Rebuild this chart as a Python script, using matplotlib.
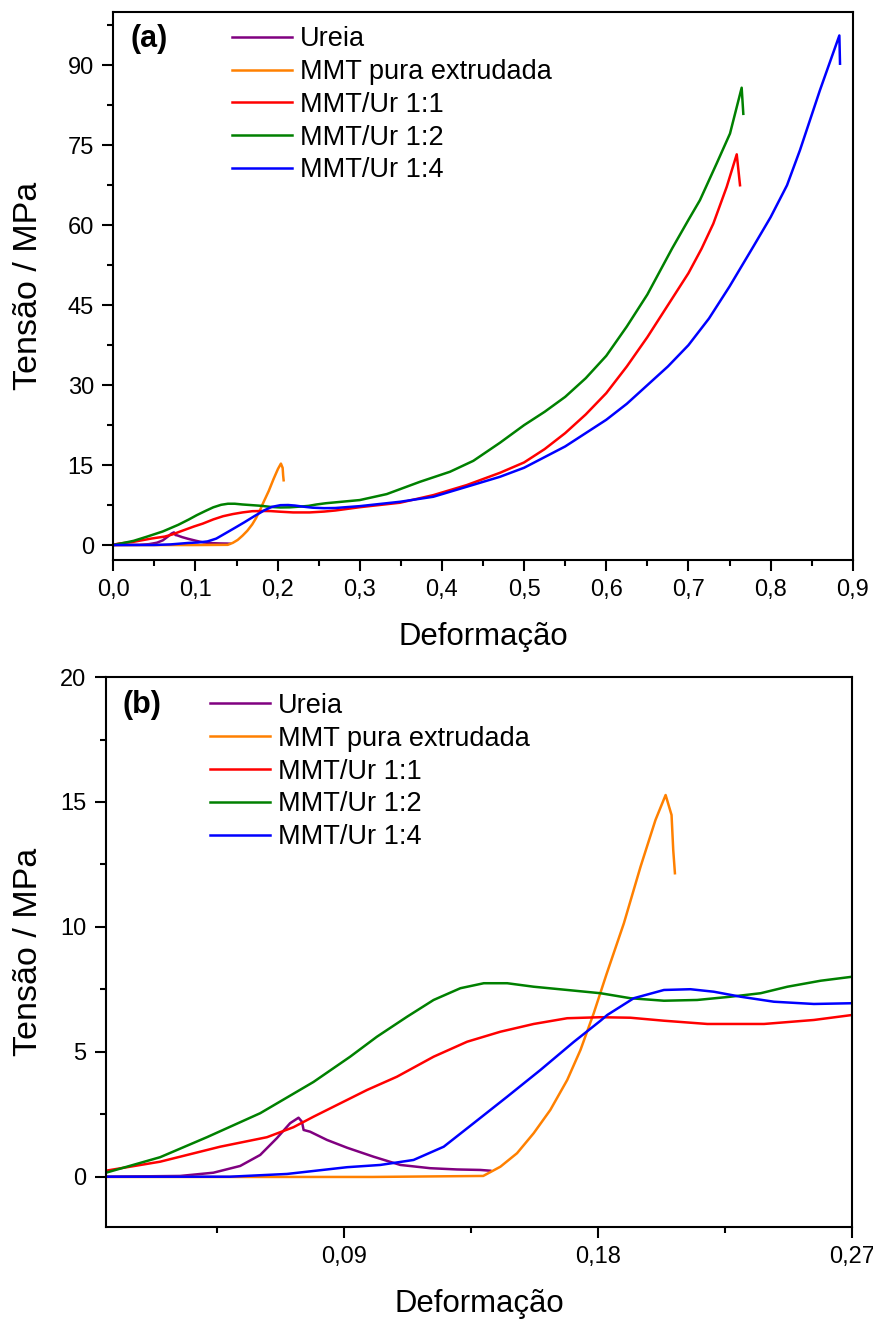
import numpy as np
import matplotlib
matplotlib.use("Agg")
import matplotlib.pyplot as plt
from matplotlib.ticker import FuncFormatter, MultipleLocator, FixedLocator

plt.rcParams['font.family'] = ['Liberation Sans', 'DejaVu Sans']

# dados (deformacao, tensao / MPa)
ureia_x = [0.0, 0.0055, 0.0318, 0.0436, 0.0531, 0.0602, 0.0661, 0.0708, 0.0738, 0.0750, 0.0756,
           0.0779, 0.0839, 0.0910, 0.1004, 0.1099, 0.1205, 0.1300, 0.1383, 0.1418]
ureia_y = [0.0, 0.01, 0.04, 0.17, 0.44, 0.88, 1.55, 2.15, 2.37, 2.21, 1.88,
           1.81, 1.48, 1.17, 0.81, 0.48, 0.35, 0.30, 0.28, 0.25]

mmt_x = [0.0, 0.0055, 0.05, 0.10, 0.1393, 0.1454, 0.1513, 0.1572, 0.1631, 0.1691, 0.1738, 0.1785,
         0.1830, 0.1892, 0.1951, 0.2004, 0.2040, 0.2061, 0.2067, 0.2073]
mmt_y = [0.0, 0.0, 0.0, 0.0, 0.04, 0.41, 0.95, 1.75, 2.68, 3.88, 5.08, 6.55,
         8.1, 10.15, 12.41, 14.28, 15.28, 14.48, 13.08, 12.15]

ur11_x = [0.0, 0.0055, 0.0247, 0.0460, 0.0626, 0.0720, 0.0791, 0.0862, 0.0910, 0.0981, 0.1087,
          0.1217, 0.1336, 0.1454, 0.1572, 0.1691, 0.1809, 0.1915, 0.2034, 0.2188, 0.2389, 0.2566,
          0.2702, 0.30, 0.3490, 0.3895, 0.4301, 0.4707, 0.50, 0.525, 0.55, 0.575, 0.60, 0.625,
          0.65, 0.675, 0.70, 0.716, 0.7303, 0.7466, 0.7588, 0.7628]
ur11_y = [0.05, 0.25, 0.61, 1.21, 1.59, 1.99, 2.41, 2.81, 3.08, 3.48, 4.01,
          4.81, 5.41, 5.81, 6.12, 6.35, 6.39, 6.37, 6.25, 6.12, 6.12, 6.28,
          6.48, 7.1, 7.94, 9.37, 11.25, 13.56, 15.5, 18.0, 21.0, 24.5, 28.5, 33.5,
          39.0, 45.0, 51.0, 55.6, 60.3, 67.2, 73.3, 67.5]

ur12_x = [0.0, 0.0055, 0.0247, 0.0413, 0.0602, 0.0791, 0.0921, 0.1016, 0.1123, 0.1217, 0.1312,
          0.1395, 0.1478, 0.1572, 0.1691, 0.1809, 0.1915, 0.2034, 0.2152, 0.2270, 0.2377, 0.2472,
          0.2590, 0.2702, 0.30, 0.3328, 0.3733, 0.4098, 0.4382, 0.4707, 0.50, 0.525, 0.55, 0.575,
          0.60, 0.625, 0.65, 0.68, 0.70, 0.714, 0.7344, 0.7506, 0.7648, 0.7668]
ur12_y = [0.0, 0.17, 0.79, 1.59, 2.55, 3.8, 4.81, 5.61, 6.41, 7.08, 7.55,
          7.75, 7.75, 7.61, 7.48, 7.35, 7.15, 7.05, 7.08, 7.21, 7.35, 7.61,
          7.85, 8.01, 8.44, 9.56, 11.87, 13.75, 15.8, 19.2, 22.5, 25.0, 27.8, 31.3,
          35.5, 41.0, 47.0, 55.6, 61.0, 64.7, 71.6, 77.2, 85.8, 80.9]

ur14_x = [0.0, 0.0055, 0.0495, 0.0697, 0.0910, 0.1028, 0.1146, 0.1253, 0.1359, 0.1478, 0.1596,
          0.1714, 0.1809, 0.1833, 0.1927, 0.2034, 0.2128, 0.2211, 0.2306, 0.2424, 0.2566, 0.2702,
          0.30, 0.3490, 0.3895, 0.4301, 0.4707, 0.50, 0.55, 0.60, 0.625, 0.65, 0.675, 0.70,
          0.725, 0.75, 0.779, 0.80, 0.82, 0.8358, 0.860, 0.8837, 0.8845]
ur14_y = [0.0, 0.01, 0.01, 0.12, 0.39, 0.48, 0.68, 1.21, 2.15, 3.21, 4.28,
          5.4, 6.25, 6.48, 7.15, 7.48, 7.51, 7.41, 7.21, 7.01, 6.92, 6.95,
          7.3, 8.12, 9.06, 10.93, 12.81, 14.5, 18.5, 23.5, 26.5, 30.0, 33.5, 37.5,
          42.5, 48.5, 56.0, 61.5, 67.5, 74.1, 85.3, 95.6, 90.3]

series = [
    (ureia_x, ureia_y, "#800080", "Ureia"),
    (mmt_x, mmt_y, "#FF8000", "MMT pura extrudada"),
    (ur11_x, ur11_y, "#FF0000", "MMT/Ur 1:1"),
    (ur12_x, ur12_y, "#008000", "MMT/Ur 1:2"),
    (ur14_x, ur14_y, "#0000FF", "MMT/Ur 1:4"),
]

fig = plt.figure(figsize=(8.73, 13.21), dpi=100)
ax1 = fig.add_axes([0.1298, 0.5761, 0.8470, 0.4148])
ax2 = fig.add_axes([0.1214, 0.0712, 0.8542, 0.4163])


def virgula(dec):
    return FuncFormatter(lambda v, p: ("%.*f" % (dec, v)).replace(".", ","))


def estilo(ax):
    for s in ax.spines.values():
        s.set_linewidth(1.5)
    ax.tick_params(which="both", direction="out", top=False, right=False, width=1.5,
                   labelsize=17, pad=6)
    ax.tick_params(which="major", length=8)
    ax.tick_params(which="minor", length=4.5)


for ax in (ax1, ax2):
    for x, y, c, lab in series:
        ax.plot(x, y, color=c, lw=1.8, label=lab)
    estilo(ax)
    ax.set_xlabel("Deformação", fontsize=22.4)
    ax.set_ylabel("Tensão / MPa", fontsize=24.5)

# (a)
ax1.set_xlim(0, 0.9)
ax1.set_ylim(-2.8, 100)
ax1.xaxis.set_major_locator(MultipleLocator(0.1))
ax1.xaxis.set_minor_locator(MultipleLocator(0.05))
ax1.yaxis.set_major_locator(FixedLocator([0, 15, 30, 45, 60, 75, 90]))
ax1.yaxis.set_minor_locator(FixedLocator(np.arange(0, 100, 7.5)))
ax1.xaxis.set_major_formatter(virgula(1))
ax1.xaxis.set_label_coords(0.5, -0.113)
ax1.yaxis.set_label_coords(-0.094, 0.5)
ax1.text(0.0226, 0.9507, "(a)", transform=ax1.transAxes, fontsize=22,
         fontweight="bold", va="center", ha="left")
ax1.legend(loc="upper left", bbox_to_anchor=(0.1605, 0.974), frameon=False, fontsize=19.5,
           borderpad=0, borderaxespad=0, handlelength=2.2, handletextpad=0.3,
           labelspacing=0.25)

# (b)
ax2.set_xlim(0.0055, 0.27)
ax2.set_ylim(-2, 20)
ax2.xaxis.set_major_locator(FixedLocator([0.09, 0.18, 0.27]))
ax2.xaxis.set_minor_locator(FixedLocator([0.045, 0.135, 0.225]))
ax2.yaxis.set_major_locator(MultipleLocator(5))
ax2.yaxis.set_minor_locator(MultipleLocator(2.5))
ax2.xaxis.set_major_formatter(virgula(2))
ax2.xaxis.set_label_coords(0.5, -0.113)
ax2.yaxis.set_label_coords(-0.083, 0.5)
ax2.text(0.0228, 0.949, "(b)", transform=ax2.transAxes, fontsize=22,
         fontweight="bold", va="center", ha="left")
ax2.legend(loc="upper left", bbox_to_anchor=(0.1395, 0.971), frameon=False, fontsize=19.5,
           borderpad=0, borderaxespad=0, handlelength=2.2, handletextpad=0.3,
           labelspacing=0.25)

fig.savefig("out.png", dpi=100)
